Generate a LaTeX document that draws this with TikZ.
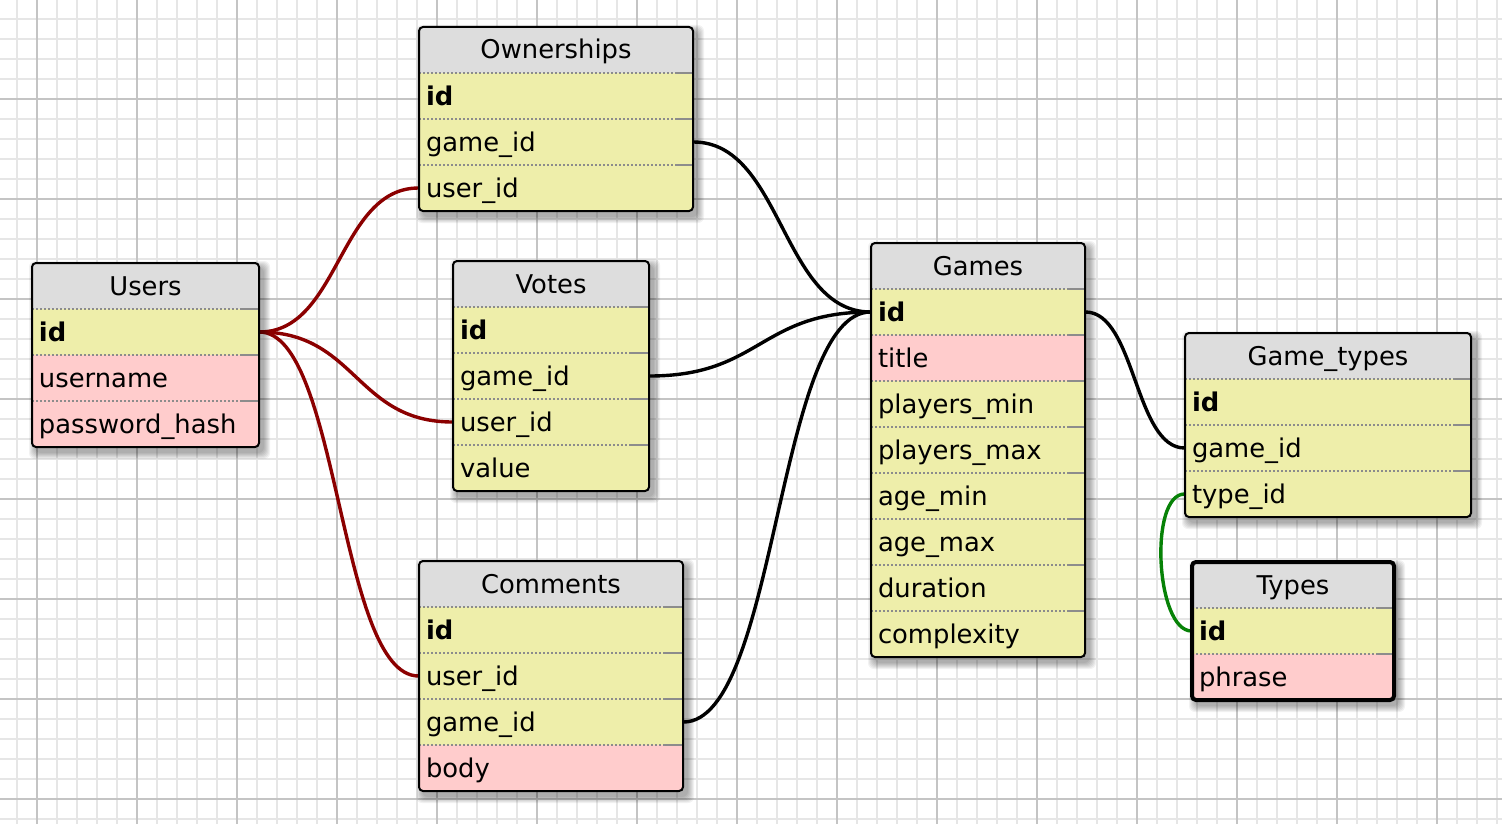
\documentclass[tikz,border=0pt]{standalone}
\usepackage{fontspec}
\setmainfont{DejaVu Sans}
\pgfdeclarelayer{gridl}
\pgfdeclarelayer{conn}
\pgfsetlayers{gridl,conn,main}
\definecolor{hdrc}{HTML}{DDDDDD}
\definecolor{yel}{HTML}{EEEEAA}
\definecolor{pnk}{HTML}{FFCCCC}
\definecolor{minorc}{HTML}{E6E6E6}
\definecolor{majorc}{HTML}{C4C4C4}
\definecolor{redc}{HTML}{8B0000}
\definecolor{greenc}{HTML}{078207}
\definecolor{sepc}{HTML}{8C8C8C}
\tikzset{
  hdrtext/.style={inner xsep=3.5pt, inner ysep=0pt, minimum height=23pt, align=center,
    text height=9pt, text depth=0pt, font=\fontsize{12.9}{15}\selectfont},
  fldtext/.style={inner xsep=3.5pt, inner ysep=0pt, minimum height=23pt, align=left,
    text height=9pt, text depth=0pt, font=\fontsize{12.9}{15}\selectfont},
  sepline/.style={sepc, line width=1pt, dash pattern=on 1pt off 1pt},
  sepsolid/.style={sepc, line width=1pt},
  minorline/.style={minorc, line width=1pt},
  majorline/.style={majorc, line width=1pt},
  conred/.style={redc, line width=1.7pt},
  conblack/.style={black, line width=1.7pt},
  congreen/.style={greenc, line width=1.7pt},
}
% #1 name, #2 x1, #3 x2, #4 ytop, #5 nrows, #6 title, #7 fields, #8 border width
\newcommand\dbtable[8]{%
  \pgfmathsetmacro\tbot{#4+46*(#5+1)}%
  \pgfmathsetmacro\tcx{(#2+#3)/2}%
  \pgfmathsetmacro\tw{(#3-#2)/2-7}%
  \foreach \k in {1,...,7}{%
    \fill[black, opacity=0.05, rounded corners=3pt] ({#2+4-\k},{#4+5-\k}) rectangle ({#3+4+\k},{\tbot+5+\k});}
  \begin{scope}
    \clip[rounded corners=2pt] (#2,#4) rectangle (#3,\tbot);
    \fill[hdrc] (#2,#4) rectangle (#3,{#4+46});
    \foreach \fn/\fl/\fc [count=\i] in {#7}{%
      \fill[fill=\fc] (#2,{#4+46*\i}) rectangle (#3,{#4+46*\i+46});}
  \end{scope}
  \node[hdrtext, text width=\tw pt] (#1) at (\tcx,{#4+23}) {#6};
  \foreach \fn/\fl/\fc [count=\i] in {#7}{%
    \node[fldtext, text width=\tw pt] (#1-\fn) at (\tcx,{#4+46*\i+23}) {\fl};
    \draw[sepline] (#2,{#4+46*\i}) -- ({#3-18},{#4+46*\i});
    \draw[sepsolid] ({#3-18},{#4+46*\i}) -- (#3,{#4+46*\i});}
  \draw[line width=#8, rounded corners=2pt] (#2,#4) rectangle (#3,\tbot);
}
\begin{document}
\begin{tikzpicture}[x=0.5pt, y=-0.5pt]
\useasboundingbox (0,0) rectangle (1502,824);
\begin{pgfonlayer}{gridl}
  \fill[white] (0,0) rectangle (1502,824);
  \foreach \x in {17,57,77,97,117,157,177,197,217,257,277,297,317,357,377,397,417,457,477,497,517,557,577,597,617,657,677,697,717,757,777,797,817,857,877,897,917,957,977,997,1017,1057,1077,1097,1117,1157,1177,1197,1217,1257,1277,1297,1317,1357,1377,1397,1417,1457,1477,1497}
    \draw[minorline] (\x,0) -- (\x,824);
  \foreach \y in {19,39,59,79,119,139,159,179,219,239,259,279,319,339,359,379,419,439,459,479,519,539,559,579,619,639,659,679,719,739,759,779,819}
    \draw[minorline] (0,\y) -- (1502,\y);
  \foreach \x in {37,137,...,1437}
    \draw[majorline] (\x,0) -- (\x,824);
  \foreach \y in {99,199,...,799}
    \draw[majorline] (0,\y) -- (1502,\y);
\end{pgfonlayer}

\dbtable{users}{32}{259}{263}{3}{Users}{id/\textbf{id}/yel, username/username/pnk, pwhash/password\_hash/pnk}{1pt}
\dbtable{own}{419}{693}{27}{3}{Ownerships}{id/\textbf{id}/yel, gameid/game\_id/yel, userid/user\_id/yel}{1pt}
\dbtable{votes}{453}{649}{261}{4}{Votes}{id/\textbf{id}/yel, gameid/game\_id/yel, userid/user\_id/yel, value/value/yel}{1pt}
\dbtable{comments}{419}{683}{561}{4}{Comments}{id/\textbf{id}/yel, userid/user\_id/yel, gameid/game\_id/yel, body/body/pnk}{1pt}
\dbtable{games}{871}{1085}{243}{8}{Games}{id/\textbf{id}/yel, title/title/pnk, pmin/players\_min/yel, pmax/players\_max/yel, agemin/age\_min/yel, agemax/age\_max/yel, duration/duration/yel, complexity/complexity/yel}{1pt}
\dbtable{gt}{1185}{1471}{333}{3}{Game\_types}{id/\textbf{id}/yel, gameid/game\_id/yel, typeid/type\_id/yel}{1pt}
\dbtable{types}{1192}{1394}{562}{2}{Types}{id/\textbf{id}/yel, phrase/phrase/pnk}{2pt}

\begin{pgfonlayer}{conn}
  \draw[conred] (users-id.east) .. controls +(80,0) and +(-80,0) .. (own-userid.west);
  \draw[conred] (users-id.east) .. controls +(97,0) and +(-97,0) .. (votes-userid.west);
  \draw[conred] (users-id.east) .. controls +(80,0) and +(-80,0) .. (comments-userid.west);
  \draw[conblack] (own-gameid.east) .. controls +(89,0) and +(-89,0) .. (games-id.west);
  \draw[conblack] (votes-gameid.east) .. controls +(111,0) and +(-111,0) .. (games-id.west);
  \draw[conblack] (comments-gameid.east) .. controls +(94,0) and +(-94,0) .. (games-id.west);
  \draw[conblack] (games-id.east) .. controls +(50,0) and +(-50,0) .. (gt-gameid.west);
  \draw[congreen] (gt-typeid.west) .. controls +(-36,0) and +(-36,0) .. (types-id.west);
\end{pgfonlayer}
\end{tikzpicture}
\end{document}
